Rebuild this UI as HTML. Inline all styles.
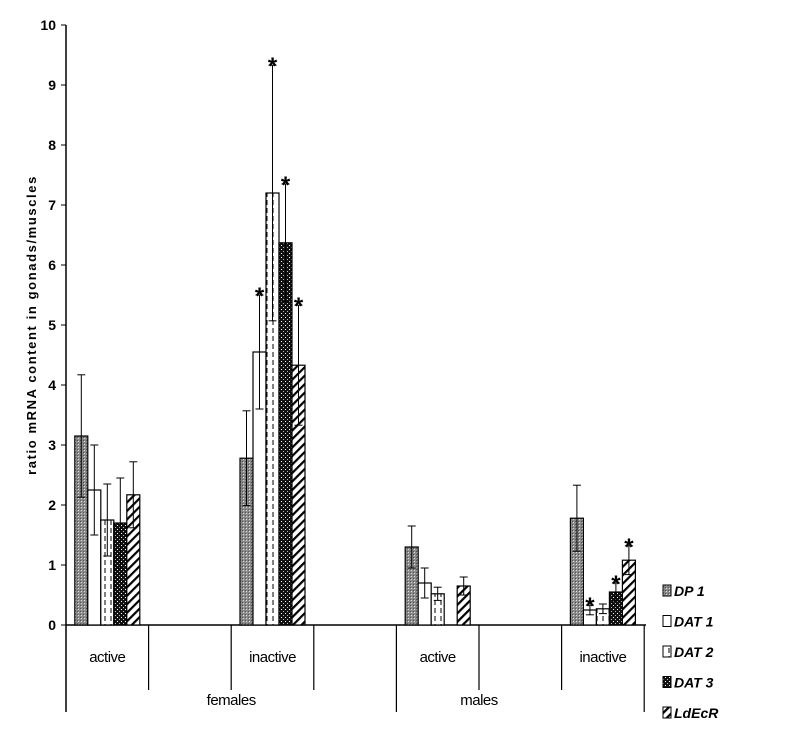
<!DOCTYPE html>
<html><head><style>
body{margin:0;background:#fff;}
svg{display:block;font-family:"Liberation Sans",Arial,sans-serif;}
</style></head><body>
<svg id="chart" width="800" height="743">
<defs>
<pattern id="pDP" width="3" height="3" patternUnits="userSpaceOnUse"><rect width="3" height="3" fill="#8a8a8a"/><rect width="1" height="1" fill="#ddd"/><rect x="2" y="2" width="1" height="1" fill="#555"/></pattern>
<pattern id="pD1" width="4" height="4" patternUnits="userSpaceOnUse"><rect width="4" height="4" fill="#fff"/></pattern>
<pattern id="pD2" width="6" height="8" patternUnits="userSpaceOnUse"><rect width="6" height="8" fill="#fff"/><line x1="3" y1="0" x2="3" y2="5" stroke="#000" stroke-width="1"/></pattern>
<pattern id="pD3" width="4" height="4" patternUnits="userSpaceOnUse"><rect width="4" height="4" fill="#111"/><rect x="1" y="1" width="1" height="1" fill="#fff"/><rect x="3" y="3" width="1" height="1" fill="#bbb"/></pattern>
<pattern id="pLd" width="6" height="6" patternUnits="userSpaceOnUse" patternTransform="rotate(45)"><rect width="6" height="6" fill="#fff"/><rect width="2.2" height="6" fill="#000"/></pattern>
</defs>
<g id="axes"></g><g id="bars"></g><g id="legend"></g>
</svg>
<script>
const categories=["active","inactive","active","inactive"];
const groups=["females","males"];
const seriesNames=["DP 1","DAT 1","DAT 2","DAT 3","LdEcR"];
const dp1=[3.15,2.78,1.3,1.78];
const dat1=[2.25,4.55,0.7,0.25];
const dat2=[1.75,7.2,0.52,0.27];
const dat3=[1.7,6.37,0,0.55];
const ldecr=[2.17,4.33,0.65,1.08];
const dp1Err=[4.17,3.57,1.65,2.33];
const dat1Err=[3.0,5.5,0.95,0.33];
const dat2Err=[2.35,9.33,0.63,0.35];
const dat3Err=[2.45,7.35,0,0.7];
const ldecrErr=[2.72,5.33,0.8,1.32];
const dp1Star=[0,0,0,0];
const dat1Star=[0,1,0,1];
const dat2Star=[0,1,0,0];
const dat3Star=[0,1,0,1];
const ldecrStar=[0,1,0,1];
const yTicks=[0,1,2,3,4,5,6,7,8,9,10];

const NS="http://www.w3.org/2000/svg";
const x0=66,slotW=165.2/2,y0=625,yTop=25,yMax=10,barW=13;
const y=v=>y0-(v/yMax)*(y0-yTop);
const slotX=i=>x0+i*2*slotW;
function mk(t,a,p){const e=document.createElementNS(NS,t);for(const k in a)e.setAttribute(k,a[k]);p.appendChild(e);return e;}
const ax=document.getElementById('axes'),bg=document.getElementById('bars'),lg=document.getElementById('legend');
let e=mk('line',{x1:x0,y1:yTop,x2:x0,y2:712,stroke:'#000','stroke-width':1.5},ax);

e=mk('line',{x1:x0,y1:y0,x2:646,y2:y0,stroke:'#000','stroke-width':1.5},ax);

yTicks.forEach(t=>{mk('line',{x1:x0-5,y1:y(t),x2:x0,y2:y(t),stroke:'#000'},ax);
 const l=mk('text',{x:x0-10,y:y(t)+5,'text-anchor':'end','font-size':14,'font-weight':'bold'},ax);l.textContent=t;
 });
for(let i=1;i<=7;i++){const xx=x0+i*slotW;const long=(i===4||i===7);
 mk('line',{x1:xx,y1:y0,x2:xx,y2:long?712:690,stroke:'#000','stroke-width':1.2},ax);}
categories.forEach((c,i)=>{const l=mk('text',{x:slotX(i)+slotW/2,y:662,'text-anchor':'middle','font-size':15,'letter-spacing':'-0.5'},ax);l.textContent=c;
 });
groups.forEach((g,i)=>{const l=mk('text',{x:i===0?x0+2*slotW:x0+5*slotW,y:705,'text-anchor':'middle','font-size':15,'letter-spacing':'-0.5'},ax);
 l.textContent=g;
 });
const yl=mk('text',{x:0,y:0,transform:'translate(36,325) rotate(-90)','text-anchor':'middle','font-size':13,'font-weight':'bold','letter-spacing':'1.6'},ax);
yl.textContent='ratio mRNA content in gonads/muscles';

const series=[dp1,dat1,dat2,dat3,ldecr],errs=[dp1Err,dat1Err,dat2Err,dat3Err,ldecrErr],stars=[dp1Star,dat1Star,dat2Star,dat3Star,ldecrStar];
const fills=['url(#pDP)','url(#pD1)','url(#pD2)','url(#pD3)','url(#pLd)'];
categories.forEach((c,i)=>{const cx=slotX(i)+slotW/2;
 series.forEach((s,j)=>{const v=s[i];if(v<=0)return;const bx=cx-2.5*barW+j*barW;
  const r=mk('rect',{x:bx,y:y(v),width:barW,height:y0-y(v),fill:fills[j],stroke:'#000','stroke-width':1.2},bg);
  
  const ev=errs[j][i],mx=bx+barW/2,lo=v-(ev-v);
  mk('line',{x1:mx,y1:y(ev),x2:mx,y2:y(lo),stroke:'#000'},bg);
  mk('line',{x1:mx-4,y1:y(ev),x2:mx+4,y2:y(ev),stroke:'#000'},bg);
  mk('line',{x1:mx-4,y1:y(lo),x2:mx+4,y2:y(lo),stroke:'#000'},bg);
  if(stars[j][i]){const st=mk('text',{x:mx,y:y(ev)+9,'text-anchor':'middle','font-size':24,'font-weight':'bold'},bg);st.textContent='*';
   }
 });});
seriesNames.forEach((n,j)=>{const ly=591+j*30.5;
 const sw=mk('rect',{x:663,y:ly-6,width:8,height:11,fill:fills[j],stroke:'#000'},lg);
 
 const t=mk('text',{x:674,y:ly+5,'font-size':14,'font-weight':'bold','font-style':'italic'},lg);t.textContent=n;
 });
</script>
</body></html>
